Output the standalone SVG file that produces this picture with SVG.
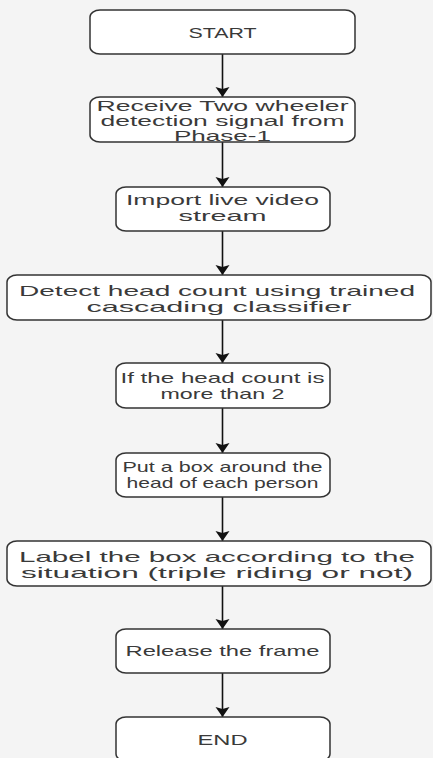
<svg xmlns="http://www.w3.org/2000/svg" width="433" height="758" viewBox="0 0 433 758">
<defs>
<style>
.box{fill:#ffffff;stroke:#333333;stroke-width:1.5}
.t{font-family:"Liberation Sans",Arial,sans-serif;font-size:14.5px;fill:#3a3a3a;text-anchor:middle}
.c{stroke:#111111;stroke-width:1.6;fill:none}
</style>
<marker id="ah" markerUnits="userSpaceOnUse" markerWidth="12" markerHeight="16" viewBox="0 0 12 16" refX="11" refY="8" orient="auto">
<path d="M1,1 L11,8 L1,15 L3,8 Z" fill="#111111"/>
</marker>
</defs>
<rect x="0" y="0" width="433" height="758" fill="#f4f4f4"/>
<g id="connectors">
<line class="c" x1="222.5" y1="54" x2="222.5" y2="97" marker-end="url(#ah)"/>
<line class="c" x1="222.5" y1="142" x2="222.5" y2="187" marker-end="url(#ah)"/>
<line class="c" x1="222.5" y1="231" x2="222.5" y2="275" marker-end="url(#ah)"/>
<line class="c" x1="222.5" y1="320" x2="222.5" y2="363" marker-end="url(#ah)"/>
<line class="c" x1="222.5" y1="408" x2="222.5" y2="453" marker-end="url(#ah)"/>
<line class="c" x1="222.5" y1="497" x2="222.5" y2="541" marker-end="url(#ah)"/>
<line class="c" x1="222.5" y1="586" x2="222.5" y2="629" marker-end="url(#ah)"/>
<line class="c" x1="222.5" y1="673" x2="222.5" y2="717" marker-end="url(#ah)"/>
</g>
<g id="start">
<rect class="box" x="90" y="10" width="265" height="44" rx="10" ry="7"/>
<text class="t" x="222.5" y="38" textLength="68" lengthAdjust="spacingAndGlyphs">START</text>
</g>
<g id="receive">
<rect class="box" x="90" y="97" width="265" height="45" rx="10" ry="7"/>
<text class="t" x="222.5" y="111" textLength="252" lengthAdjust="spacingAndGlyphs">Receive Two wheeler</text>
<text class="t" x="222.5" y="126" textLength="244" lengthAdjust="spacingAndGlyphs">detection signal from</text>
<text class="t" x="222.5" y="141" textLength="97" lengthAdjust="spacingAndGlyphs">Phase-1</text>
</g>
<g id="import">
<rect class="box" x="116" y="187" width="214" height="44" rx="10" ry="7"/>
<text class="t" x="222.5" y="205" textLength="193" lengthAdjust="spacingAndGlyphs">Import live video</text>
<text class="t" x="222.5" y="221" textLength="88" lengthAdjust="spacingAndGlyphs">stream</text>
</g>
<g id="detect">
<rect class="box" x="7" y="275" width="424" height="45" rx="10" ry="7"/>
<text class="t" x="217" y="296" textLength="396" lengthAdjust="spacingAndGlyphs">Detect head count using trained</text>
<text class="t" x="219" y="312" textLength="265" lengthAdjust="spacingAndGlyphs">cascading classifier</text>
</g>
<g id="ifcount">
<rect class="box" x="116" y="363" width="214" height="45" rx="10" ry="7"/>
<text class="t" x="222.5" y="383" textLength="204" lengthAdjust="spacingAndGlyphs">If the head count is</text>
<text class="t" x="222.5" y="399" textLength="124" lengthAdjust="spacingAndGlyphs">more than 2</text>
</g>
<g id="putbox">
<rect class="box" x="116" y="453" width="214" height="44" rx="10" ry="7"/>
<text class="t" x="222.5" y="472" textLength="200" lengthAdjust="spacingAndGlyphs">Put a box around the</text>
<text class="t" x="222.5" y="488" textLength="192" lengthAdjust="spacingAndGlyphs">head of each person</text>
</g>
<g id="label">
<rect class="box" x="7" y="541" width="424" height="45" rx="10" ry="7"/>
<text class="t" x="217" y="562" textLength="396" lengthAdjust="spacingAndGlyphs">Label the box according to the</text>
<text class="t" x="217" y="578" textLength="392" lengthAdjust="spacingAndGlyphs">situation (triple riding or not)</text>
</g>
<g id="release">
<rect class="box" x="116" y="629" width="214" height="44" rx="10" ry="7"/>
<text class="t" x="222.5" y="656" textLength="194" lengthAdjust="spacingAndGlyphs">Release the frame</text>
</g>
<g id="end">
<rect class="box" x="116" y="717" width="214" height="44" rx="10" ry="7"/>
<text class="t" x="222.5" y="745" textLength="50" lengthAdjust="spacingAndGlyphs">END</text>
</g>
</svg>
